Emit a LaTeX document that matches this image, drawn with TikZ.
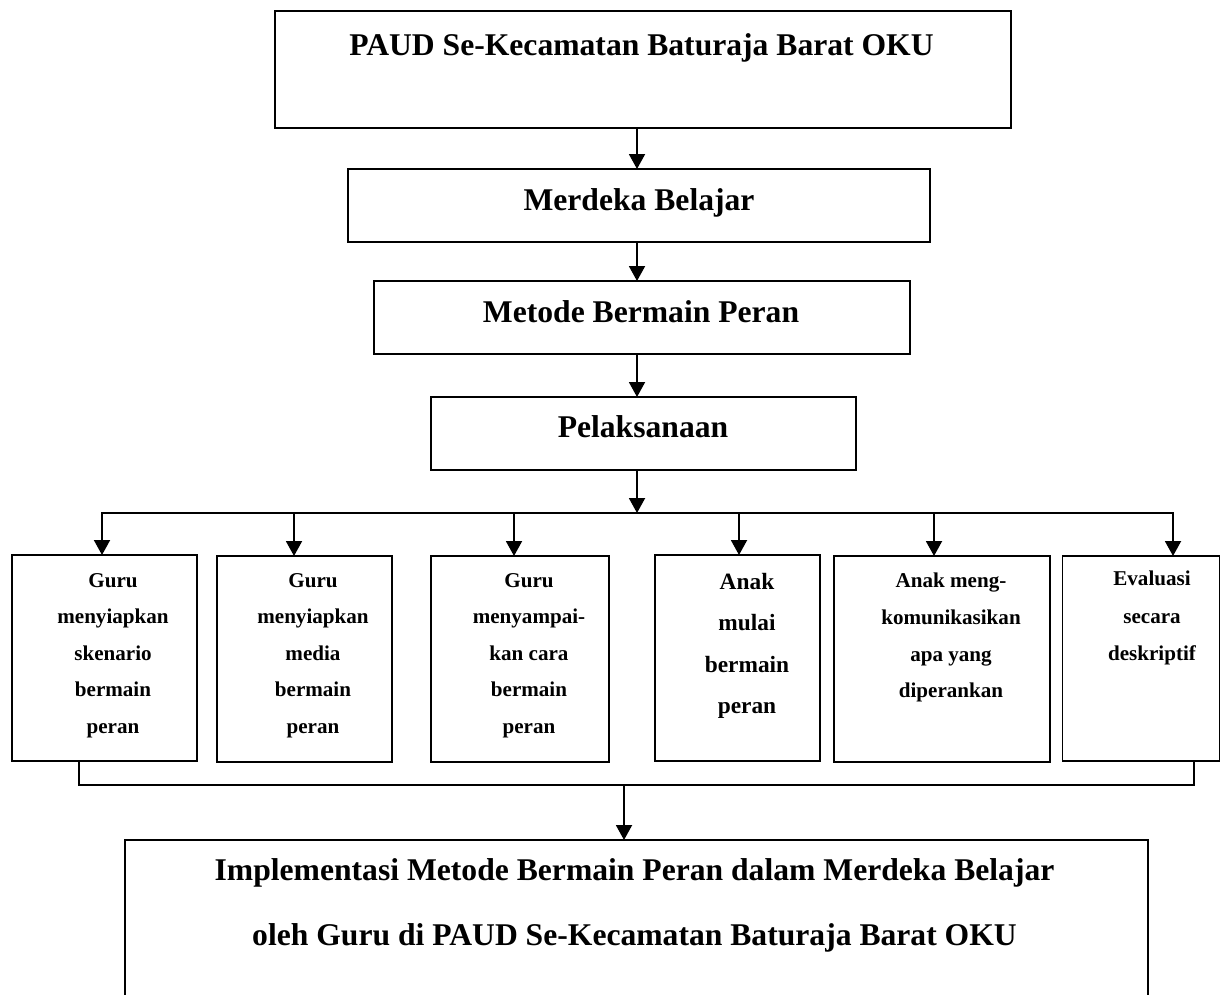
\documentclass[tikz,border=0pt]{standalone}
\usepackage{fontspec}
\setmainfont{Liberation Serif}
\usetikzlibrary{arrows.meta}
\begin{document}
\begin{tikzpicture}[x=0.02cm,y=-0.02cm,
  box/.style 2 args={draw, line width=1.1pt, inner sep=0pt, outer sep=0pt, minimum width=#1*0.02cm, minimum height=#2*0.02cm},
  bigtxt/.style={font=\fontsize{18}{36.85}\selectfont\bfseries, inner sep=0pt, outer sep=0pt},
  smtxt/.style={font=\fontsize{12}{20.8}\selectfont\bfseries, align=center, inner sep=0pt, anchor=north},
  ln/.style={line width=1.1pt},
  arr/.style={line width=1.1pt, -{Triangle[width=0.32cm,length=0.3cm]}}]
\fill[white] (0,0) rectangle (1222,994);
\useasboundingbox (0,0) rectangle (1222,994);

% main column boxes
\node[box={736}{117}] (top)  at (643,69.5) {};
\node[box={582}{73}]  (merd) at (639,205.5) {};
\node[box={536}{73}]  (meto) at (642,317.5) {};
\node[box={425}{73}]  (pel)  at (643.5,433.5) {};

\node[bigtxt, anchor=base] (ttop)  at (641.5,55) {PAUD Se-Kecamatan Baturaja Barat OKU};
\node[bigtxt, anchor=base] (tmerd) at (639,210) {Merdeka Belajar};
\node[bigtxt, anchor=base] (tmeto) at (641,322) {Metode Bermain Peran};
\node[bigtxt, anchor=base] (tpel)  at (643,437) {Pelaksanaan};

% row of boxes
\node[box={185}{206}] (b1) at (104.5,658) {};
\node[box={175}{206}] (b2) at (304.5,659) {};
\node[box={178}{206}] (b3) at (520,659) {};
\node[box={165}{206}] (b4) at (737.5,658) {};
\node[box={216}{206}] (b5) at (942,659) {};
\node[box={157}{205}] (b6) at (1141,658.5) {};

\node[smtxt] (t1) at (113,573) {Guru\\menyiapkan\\skenario\\bermain\\peran};
\node[smtxt] (t2) at (313,573) {Guru\\menyiapkan\\media\\bermain\\peran};
\node[smtxt] (t3) at (529,573) {Guru\\menyampai-\\kan cara\\bermain\\peran};
\node[smtxt, font=\fontsize{13.3}{23.6}\selectfont\bfseries] (t4) at (747,572.5) {Anak\\mulai\\bermain\\peran};
\node[smtxt] (t5) at (951,573) {Anak meng-\\komunikasikan\\apa yang\\diperankan};
\node[smtxt, font=\fontsize{12}{21.2}\selectfont\bfseries] (t6) at (1152,571) {Evaluasi\\secara\\deskriptif};

% bottom box (open at the bottom of the page)
\node[inner sep=0pt, outer sep=0pt, minimum width=1023*0.02cm, minimum height=160*0.02cm] (impl) at (636.5,920) {};
\draw[ln] (impl.south west) -- (impl.north west) -- (impl.north east) -- (impl.south east);
\node[bigtxt, align=center, anchor=north] (timpl) at (634.5,859) {Implementasi Metode Bermain Peran dalam Merdeka Belajar\\oleh Guru di PAUD Se-Kecamatan Baturaja Barat OKU};

% connectors
\coordinate (spine) at (637,0);
\draw[arr] (top.south -| spine) -- (merd.north -| spine);
\draw[arr] (merd.south -| spine) -- (meto.north -| spine);
\draw[arr] (meto.south -| spine) -- (pel.north -| spine);
\coordinate (busL) at (102,513);
\coordinate (busR) at (1173,513);
\draw[ln, line cap=rect] (busL) -- (busR);
\draw[arr] (pel.south -| spine) -- (busL -| spine);
\foreach \b/\x in {b1/102, b2/294, b3/514, b4/739, b5/934, b6/1173}
  \draw[arr] (\x,513) -- (\x,0 |- \b.north);

\coordinate (colL) at (79,785);
\coordinate (colR) at (1194,785);
\coordinate (colM) at (624,785);
\draw[ln] (colL |- b1.south) -- (colL) -- (colR) -- (colR |- b6.south);
\draw[arr] (colM) -- (colM |- impl.north);
\end{tikzpicture}
\end{document}
